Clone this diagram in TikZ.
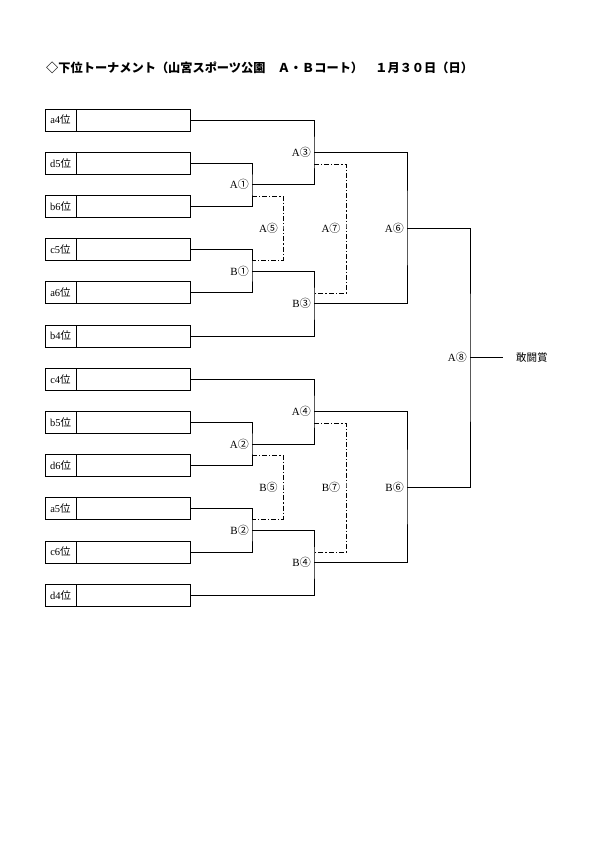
\documentclass[tikz,border=0pt]{standalone}
\usepackage{fontspec}
\setmainfont{Liberation Serif}
\newfontfamily\cjk{Noto Sans CJK JP}
\begin{document}
\begin{tikzpicture}[x=1pt,y=-1pt]
\tikzset{
 wire/.style={line width=0.9pt},
 dashwire/.style={line width=0.8pt, dash pattern=on 5pt off 2pt on 1.2pt off 2pt},
 teambox/.style={draw, line width=0.9pt, minimum width=145pt, minimum height=22pt, inner sep=0pt, outer sep=0pt},
 teamlbl/.style={font=\fontsize{10.5}{11}\selectfont, inner sep=0pt},
 matchlbl/.style={font=\fontsize{11}{12}\selectfont, inner sep=0pt, anchor=east},
 midlbl/.style={font=\fontsize{11}{12}\selectfont, inner sep=0pt},
}
\useasboundingbox (0,0) rectangle (595,841);
\node[anchor=west, inner sep=0pt, font=\cjk\bfseries\fontsize{12.2}{13}\selectfont] (title) at (46,68) {◇下位トーナメント（山宮スポーツ公園　Ａ・Ｂコート）　１月３０日（日）};
\foreach \i/\t in {1/a4,2/d5,3/b6,4/c5,5/a6,6/b4,7/c4,8/b5,9/d6,10/a5,11/c6,12/d4}{
  \node[teambox] (t\i) at (117.5,{120+43.2*(\i-1)}) {};
  \draw[line width=0.9pt] ([xshift=31pt]t\i.north west) -- ([xshift=31pt]t\i.south west);
  \node[teamlbl] (l\i) at ([xshift=15.5pt]t\i.west) {\t{\cjk 位}};
}
% junctions
\coordinate (a1) at (252,184.8);
\coordinate (b1) at (252,271.2);
\coordinate (a2) at (252,444);
\coordinate (b2) at (252,530.4);
\coordinate (a3) at (314,152.4);
\coordinate (b3) at (314,303.6);
\coordinate (a4) at (314,411.6);
\coordinate (b4) at (314,562.8);
\coordinate (a6) at (407,228);
\coordinate (b6) at (407,487.2);
\coordinate (a8) at (470,357.6);
\coordinate (fin) at (503,357.6);
% solid brackets
\draw[wire] (t2.east) -| (a1) |- (t3.east);
\draw[wire] (t1.east) -| (a3) |- (a1);
\draw[wire] (t4.east) -| (b1) |- (t5.east);
\draw[wire] (b1) -| (b3) |- (t6.east);
\draw[wire] (a3) -| (a6) |- (b3);
\draw[wire] (t8.east) -| (a2) |- (t9.east);
\draw[wire] (t7.east) -| (a4) |- (a2);
\draw[wire] (t10.east) -| (b2) |- (t11.east);
\draw[wire] (b2) -| (b4) |- (t12.east);
\draw[wire] (a4) -| (b6) |- (b4);
\draw[wire] (a6) -| (a8) |- (b6);
\draw[wire] (a8) -- (fin);
\node[anchor=west, inner sep=0pt, font=\cjk\fontsize{10.5}{11}\selectfont] (award) at (516,357.6) {敢闘賞};
% dashed (losers) brackets
\coordinate (p5s) at (252,196); \coordinate (p5m) at (283,228); \coordinate (p5e) at (252,260);
\coordinate (p7s) at (314,164); \coordinate (p7m) at (346,228); \coordinate (p7e) at (314,293);
\coordinate (q5s) at (252,455); \coordinate (q5m) at (283,487.2); \coordinate (q5e) at (252,519);
\coordinate (q7s) at (314,423); \coordinate (q7m) at (346,487.2); \coordinate (q7e) at (314,552);
\draw[dashwire] (p5s) -| (p5m) |- (p5e);
\draw[dashwire] (p7s) -| (p7m) |- (p7e);
\draw[dashwire] (q5s) -| (q5m) |- (q5e);
\draw[dashwire] (q7s) -| (q7m) |- (q7e);
% match labels
\node[matchlbl] (LA1) at (249,184.8) {A{\cjk ①}};
\node[matchlbl] (LB1) at (249,271.2) {B{\cjk ①}};
\node[matchlbl] (LA2) at (249,444) {A{\cjk ②}};
\node[matchlbl] (LB2) at (249,530.4) {B{\cjk ②}};
\node[matchlbl] (LA3) at (311,152.4) {A{\cjk ③}};
\node[matchlbl] (LB3) at (311,303.6) {B{\cjk ③}};
\node[matchlbl] (LA4) at (311,411.6) {A{\cjk ④}};
\node[matchlbl] (LB4) at (311,562.8) {B{\cjk ④}};
\node[matchlbl] (LA6) at (404,228) {A{\cjk ⑥}};
\node[matchlbl] (LB6) at (404,487.2) {B{\cjk ⑥}};
\node[matchlbl] (LA8) at (467,357.6) {A{\cjk ⑧}};
\node[midlbl] (LA5) at (268.5,228) {A{\cjk ⑤}};
\node[midlbl] (LB5) at (268.5,487.2) {B{\cjk ⑤}};
\node[midlbl] (LA7) at (331,228) {A{\cjk ⑦}};
\node[midlbl] (LB7) at (331,487.2) {B{\cjk ⑦}};
\end{tikzpicture}
\end{document}
